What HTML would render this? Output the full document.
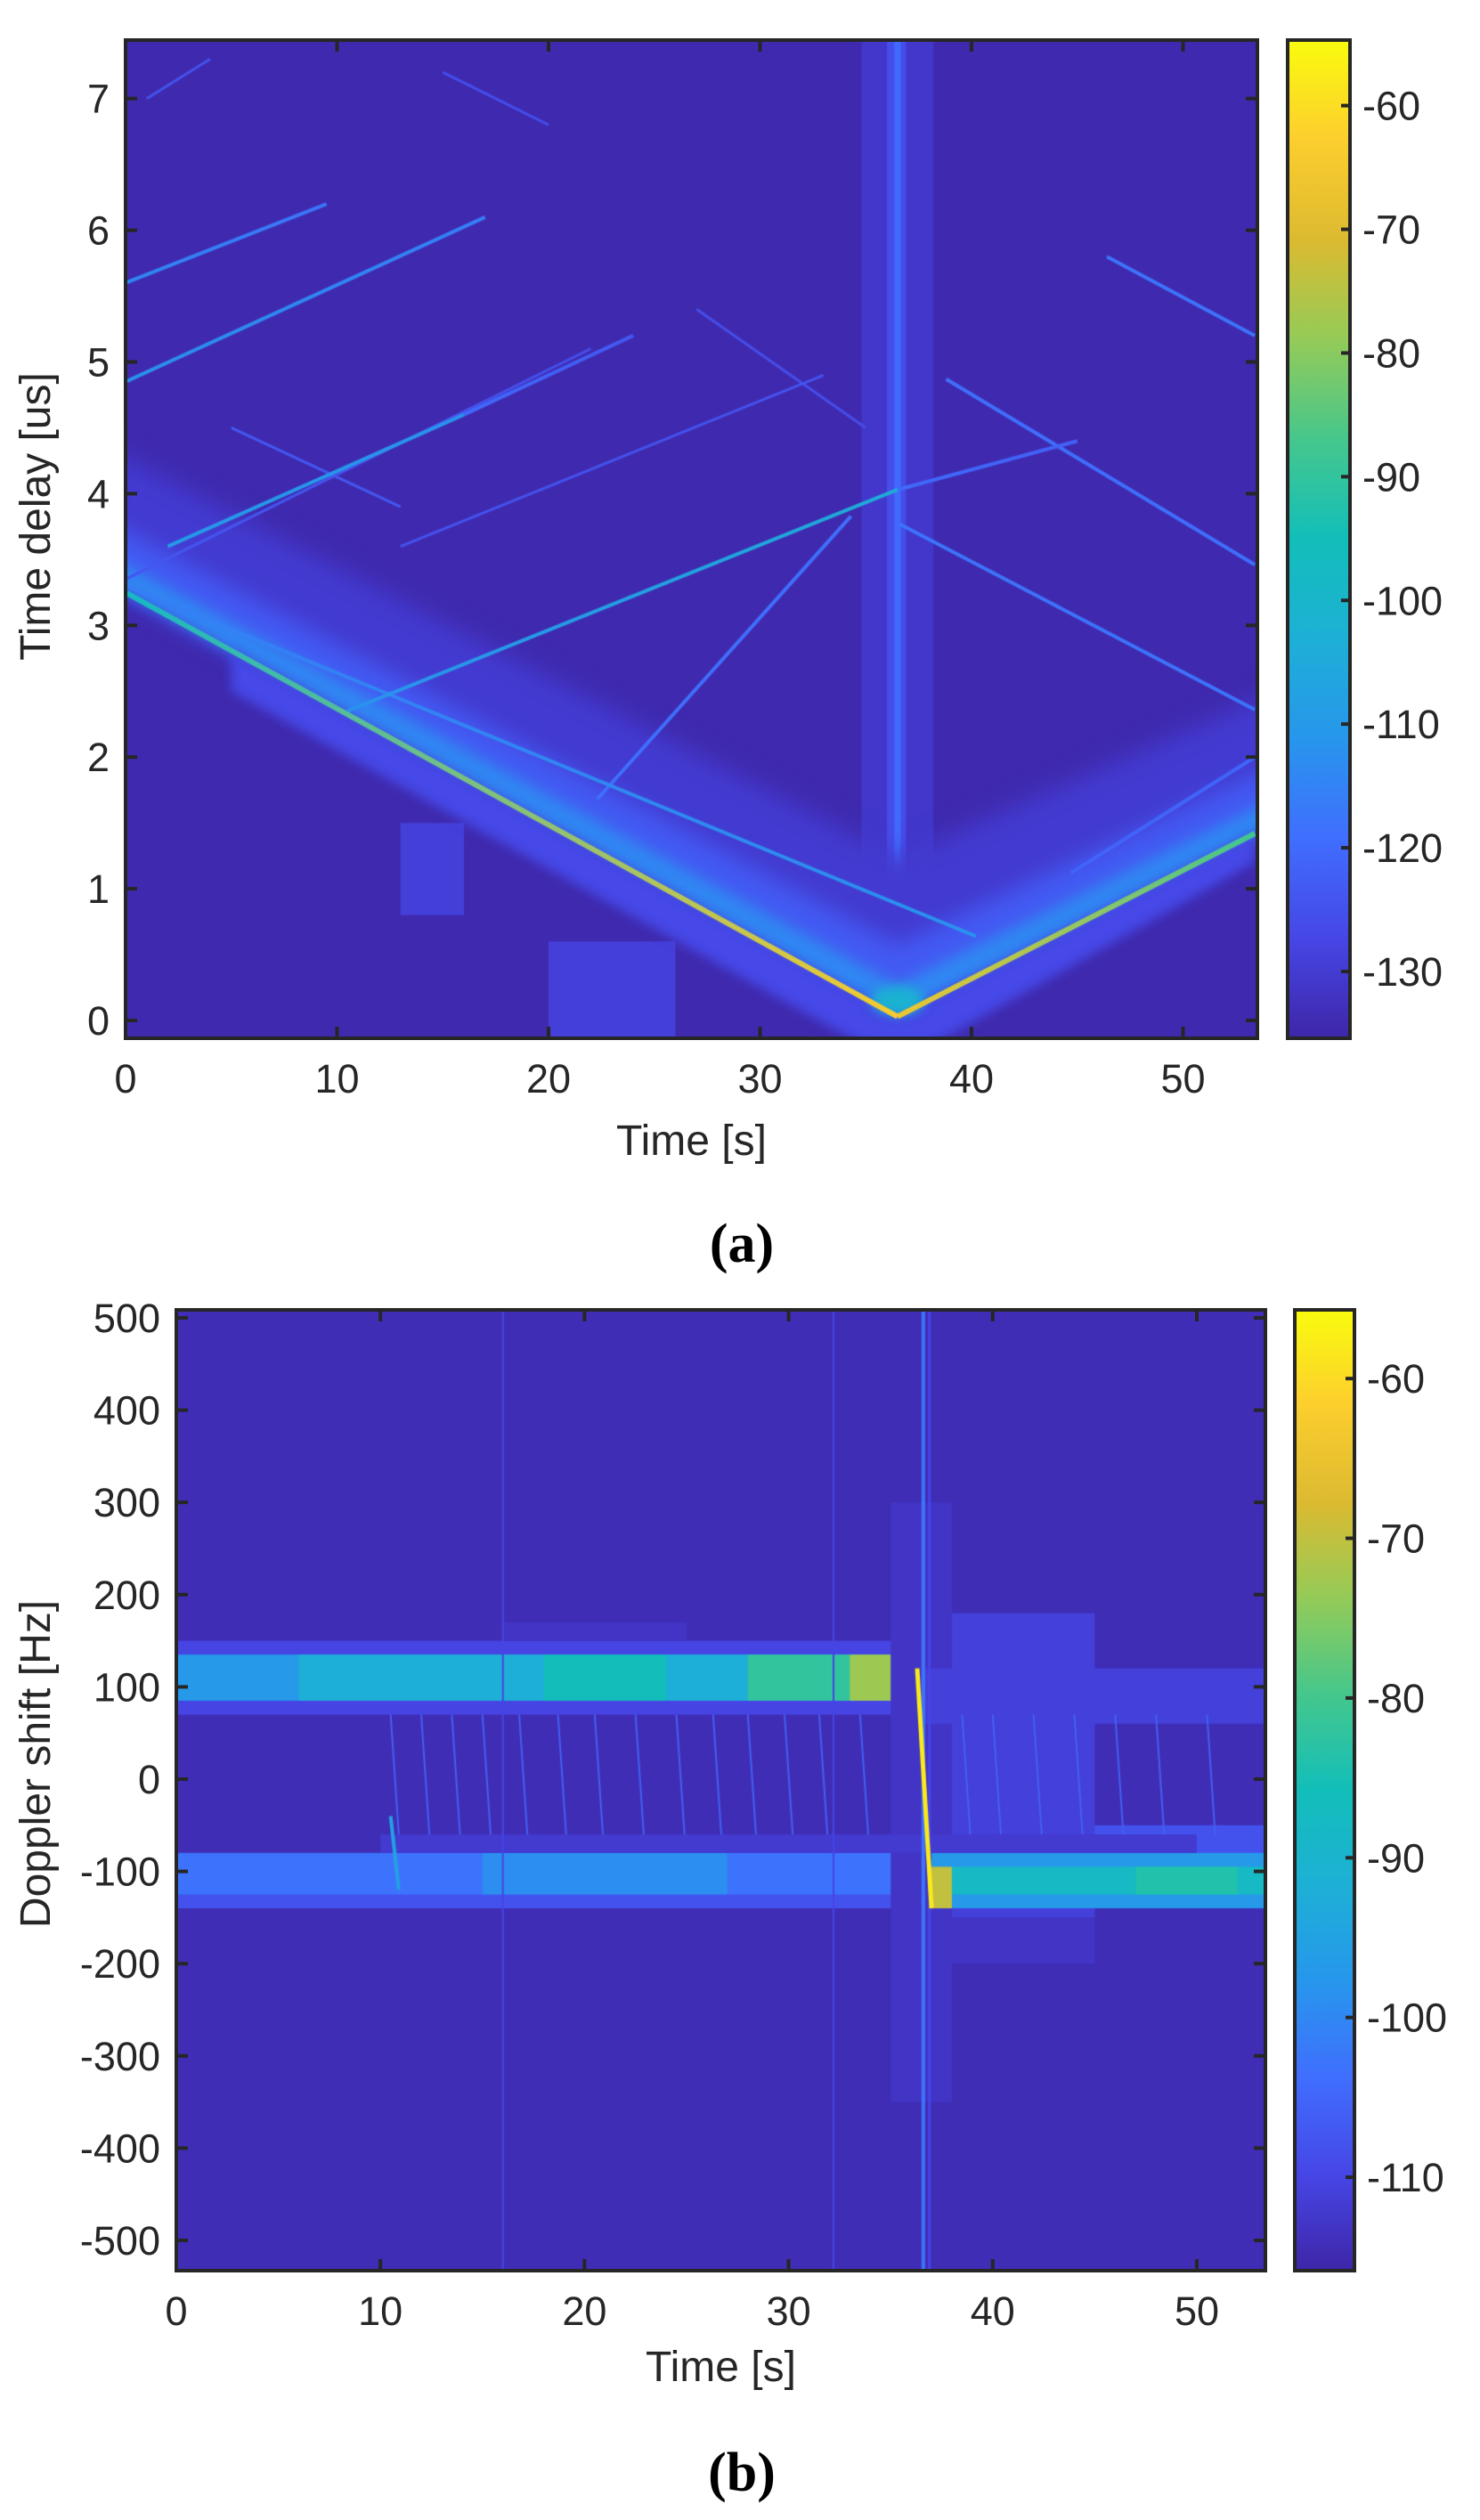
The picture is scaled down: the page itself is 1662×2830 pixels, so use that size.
<!DOCTYPE html>
<html><head><meta charset="utf-8">
<style>
html,body{margin:0;padding:0;background:#fff;}
#root{position:relative;width:1662px;height:2830px;overflow:hidden;background:#fff;}
canvas{position:absolute;}
svg{position:absolute;left:0;top:0;}
text{font-family:"Liberation Sans",sans-serif;fill:#262626;}
</style></head><body>
<div id="root">
<canvas id="ca" style="left:141px;top:45px" width="1271" height="1121"></canvas>
<canvas id="cb" style="left:198px;top:1471px" width="1223" height="1079"></canvas>
<svg id="ov" width="1662" height="2830"></svg>
</div>
<script>
// ---------- Panel A data (time [s], delay [us], level [dB]) ----------
const aX1=[0,36.5,10.5,36.5,0,0,2,16,0,0,36.6,38.8,46.4,22.3,44.7,13,1,15,5,27];
const aY1=[3.25,0.03,2.35,4.03,4.85,5.6,3.6,4.6,3.35,3.3,3.77,4.87,5.8,1.68,1.12,3.6,7.0,7.2,4.5,5.4];
const aX2=[36.5,53.4,36.5,45,17,9.5,16,24,22,40.2,53.4,53.4,53.4,34.3,53.4,33,4,20,13,35];
const aY2=[0.03,1.42,4.03,4.4,6.1,6.2,4.6,5.2,5.1,0.64,2.36,3.46,5.2,3.83,2.0,4.9,7.3,6.8,3.9,4.5];
const aLevel1=[-98,-66,-112,-120,-112,-114,-110,-120,-124,-116,-118,-119,-118,-119,-121,-125,-125,-126,-124,-126];
const aLevel2=[-64,-88,-104,-122,-116,-118,-112,-124,-126,-112,-118,-119,-118,-119,-121,-125,-125,-126,-124,-126];
const aTicksX=[0,10,20,30,40,50];
const aTicksY=[0,1,2,3,4,5,6,7];
const aCbTicks=[-60,-70,-80,-90,-100,-110,-120,-130];
const aCbMin=-135.4, aCbMax=-54.7;
// ---------- Panel B data (time [s], doppler [Hz], level [dB]) ----------
const bRectT1=[0,0,6,18,28,33,16,0,0,15,36.7,36.3,35,38,36.5,37,37,38,47,10];
const bRectT2=[36.3,36.3,36.3,24,35,36.3,25,36.5,36.5,27,53.4,45,38,45,53.4,53.4,38,53.4,52,50];
const bRectF1=[70,85,85,85,85,85,150,-140,-125,-125,-140,-150,-350,-200,60,-140,-140,-125,-125,-80];
const bRectF2=[150,135,135,135,135,135,170,-80,-80,-80,-50,180,300,-150,120,-80,-95,-95,-95,-60];
const bRectLevel=[-110,-97,-92,-86,-82,-73,-113,-108,-103,-99,-108,-111,-113,-113,-111,-97,-70,-88,-84,-112];
const bStreakT=[10.5,12,13.5,15,16.8,18.7,20.5,22.5,24.5,26.3,28,29.8,31.5,33.5,38.5,40,42,44,46,48,50.5];
const bTicksX=[0,10,20,30,40,50];
const bTicksY=[500,400,300,200,100,0,-100,-200,-300,-400,-500];
const bCbTicks=[-60,-70,-80,-90,-100,-110];
const bCbMin=-115.85, bCbMax=-55.7;

// ---------- colormap ----------
const P=[[62,38,168],[70,70,230],[64,110,254],[39,150,236],[29,176,214],[18,190,185],[69,199,140],[148,203,88],[220,186,48],[252,206,46],[249,251,14]];
function parula(u){u=Math.max(0,Math.min(1,u));const s=u*10,i=Math.min(9,Math.floor(s)),f=s-i;const a=P[i],b=P[i+1];return `rgb(${Math.round(a[0]+(b[0]-a[0])*f)},${Math.round(a[1]+(b[1]-a[1])*f)},${Math.round(a[2]+(b[2]-a[2])*f)})`;}

// ---------- Panel A drawing ----------
const A={L:141,T:45,R:1412,B:1166,x:t=>141+t*23.75,y:d=>1146-d*147.9,cmin:aCbMin,cmax:aCbMax};
const cA=(v)=>parula((v-A.cmin)/(A.cmax-A.cmin));
(function(){
 const ctx=document.getElementById('ca').getContext('2d');
 const X=t=>A.x(t)-A.L, Y=d=>A.y(d)-A.T;
 ctx.fillStyle=cA(-134.5);ctx.fillRect(0,0,2000,2000);
 // vertical stripe
 ctx.fillStyle=cA(-131);ctx.fillRect(X(34.8),0,X(38.2)-X(34.8),2000);
 ctx.fillStyle=cA(-126);ctx.fillRect(X(36.0),0,X(36.9)-X(36.0),2000);
 ctx.fillStyle=cA(-120);ctx.fillRect(X(36.35),0,X(36.65)-X(36.35),2000);
 // faint patches
 ctx.fillStyle=cA(-129);ctx.fillRect(X(20),Y(0.6),X(26)-X(20),Y(-0.2)-Y(0.6));
 ctx.fillRect(X(13),Y(1.5),X(16)-X(13),Y(0.8)-Y(1.5));
 // blurred glow polygons inside V
 function band(off,lvl,blur){
   ctx.save();ctx.filter=`blur(${blur}px)`;ctx.fillStyle=cA(lvl);ctx.beginPath();
   ctx.moveTo(X(-1),Y(3.35));ctx.lineTo(X(36.5),Y(0.03));ctx.lineTo(X(54.5),Y(1.5));
   ctx.lineTo(X(54.5),Y(1.5+off));ctx.lineTo(X(36.5),Y(0.03+off*1.2));ctx.lineTo(X(-1),Y(3.35+off));ctx.closePath();ctx.fill();ctx.restore();
 }
 band(1.0,-130,14);band(0.45,-123,12);band(0.2,-114,8);
 // fringe below
 ctx.save();ctx.filter='blur(6px)';ctx.fillStyle=cA(-127);ctx.beginPath();
 ctx.moveTo(X(5),Y(2.8));ctx.lineTo(X(36.5),Y(0.03));ctx.lineTo(X(53.4),Y(1.42));ctx.lineTo(X(53.4),Y(1.2));ctx.lineTo(X(38),Y(-0.2));ctx.lineTo(X(35),Y(-0.2));ctx.lineTo(X(5),Y(2.5));ctx.closePath();ctx.fill();
 ctx.fillStyle=cA(-102);ctx.beginPath();ctx.ellipse(X(36.5),Y(0.15),30,16,0,0,Math.PI*2);ctx.fill();ctx.restore();
 ctx.lineCap='butt';
 for(let i=aX1.length-1;i>=0;i--){
   const x1=X(aX1[i]),y1=Y(aY1[i]),x2=X(aX2[i]),y2=Y(aY2[i]);
   const g=ctx.createLinearGradient(x1,y1,x2,y2);g.addColorStop(0,cA(aLevel1[i]));g.addColorStop(1,cA(aLevel2[i]));
   ctx.strokeStyle=g;ctx.lineWidth=i<2?6:(aLevel1[i]<-121?3:4);
   ctx.beginPath();ctx.moveTo(x1,y1);ctx.lineTo(x2,y2);ctx.stroke();
 }
})();

// ---------- Panel B drawing ----------
const B={L:198,T:1471,R:1421,B:2550,x:t=>198+t*22.92,y:f=>1998-f*1.036,cmin:bCbMin,cmax:bCbMax};
const cB=(v)=>parula((v-B.cmin)/(B.cmax-B.cmin));
(function(){
 const ctx=document.getElementById('cb').getContext('2d');
 const X=t=>B.x(t)-B.L, Y=f=>B.y(f)-B.T;
 ctx.fillStyle=cB(-114.5);ctx.fillRect(0,0,2000,2000);
 for(let i=0;i<bRectT1.length;i++){
   ctx.fillStyle=cB(bRectLevel[i]);
   ctx.fillRect(X(bRectT1[i]),Y(bRectF2[i]),X(bRectT2[i])-X(bRectT1[i]),Y(bRectF1[i])-Y(bRectF2[i]));
 }
 ctx.lineWidth=2;
 for(let i=0;i<bStreakT.length;i++){
   ctx.strokeStyle=cB(-106);ctx.beginPath();ctx.moveTo(X(bStreakT[i]),Y(70));ctx.lineTo(X(bStreakT[i]+0.4),Y(-60));ctx.stroke();
 }
 ctx.strokeStyle=cB(-95);ctx.lineWidth=4;ctx.beginPath();ctx.moveTo(X(10.5),Y(-40));ctx.lineTo(X(10.9),Y(-120));ctx.stroke();
 [[16,-110,2],[32.2,-110,2],[36.9,-110,3],[36.6,-103,4]].forEach(v=>{ctx.strokeStyle=cB(v[1]);ctx.lineWidth=v[2];ctx.beginPath();ctx.moveTo(X(v[0]),0);ctx.lineTo(X(v[0]),2000);ctx.stroke();});
 ctx.strokeStyle=cB(-58);ctx.lineWidth=5;ctx.beginPath();ctx.moveTo(X(36.3),Y(120));ctx.lineTo(X(37.0),Y(-140));ctx.stroke();
})();

// ---------- Axes overlay ----------
const NS='http://www.w3.org/2000/svg';
const ov=document.getElementById('ov');
function el(tag,attrs,txt){const e=document.createElementNS(NS,tag);for(const k in attrs)e.setAttribute(k,attrs[k]);if(txt!==undefined)e.textContent=txt;ov.appendChild(e);return e;}
const defs=el('defs',{});
['ga','gb'].forEach(id=>{const g=document.createElementNS(NS,'linearGradient');g.setAttribute('id',id);g.setAttribute('x1','0');g.setAttribute('y1','1');g.setAttribute('x2','0');g.setAttribute('y2','0');
 for(let k=0;k<=20;k++){const s=document.createElementNS(NS,'stop');s.setAttribute('offset',k/20);s.setAttribute('stop-color',parula(k/20));g.appendChild(s);}defs.appendChild(g);});

function panel(P,ticksX,ticksY,yFn,xlabel,ylabel,ylabelY,xlabelBase,cb,cbTicks,grad,letter,letterBase,key){
 let r=el('rect',{x:P.L,y:P.T,width:P.R-P.L,height:P.B-P.T,fill:'none',stroke:'#262626','stroke-width':4});
 
 ticksX.forEach(t=>{const x=P.x(t);
   el('line',{x1:x,y1:P.B,x2:x,y2:P.B-13,stroke:'#262626','stroke-width':4});
   el('line',{x1:x,y1:P.T,x2:x,y2:P.T+13,stroke:'#262626','stroke-width':4});
   const tx=el('text',{x:x,y:P.B+61,'font-size':45,'text-anchor':'middle'},String(t));
   });
 ticksY.forEach(v=>{const y=yFn(v);
   el('line',{x1:P.L,y1:y,x2:P.L+13,y2:y,stroke:'#262626','stroke-width':4});
   el('line',{x1:P.R,y1:y,x2:P.R-13,y2:y,stroke:'#262626','stroke-width':4});
   const tx=el('text',{x:P.L-18,y:y+16,'font-size':45,'text-anchor':'end'},String(v));
   });
 let xl=el('text',{x:(P.L+P.R)/2,y:xlabelBase,'font-size':48,'text-anchor':'middle'},xlabel);
 
 let yl=el('text',{x:0,y:0,'font-size':48,'text-anchor':'middle',transform:`translate(56,${ylabelY}) rotate(-90)`},ylabel);
 
 let cr=el('rect',{x:cb.L,y:P.T,width:cb.R-cb.L,height:P.B-P.T,fill:`url(#${grad})`,stroke:'#262626','stroke-width':4});
 
 cbTicks.forEach(v=>{const y=P.B-(v-P.cmin)/(P.cmax-P.cmin)*(P.B-P.T);
   el('line',{x1:cb.R,y1:y,x2:cb.R-10,y2:y,stroke:'#262626','stroke-width':4});
   const tx=el('text',{x:cb.R+14,y:y+16,'font-size':45},String(v));
   });
 const lt=el('text',{x:833,y:letterBase,'font-size':62,'text-anchor':'middle','font-weight':'bold',style:'font-family:"Liberation Serif",serif;fill:#000'},letter);
 
}
panel(A,aTicksX,aTicksY,A.y,'Time [s]','Time delay [us]',580,1297,{L:1446,R:1516},aCbTicks,'ga','(a)',1417,'a');
panel(B,bTicksX,bTicksY,B.y,'Time [s]','Doppler shift [Hz]',1981,2674,{L:1454,R:1521},bCbTicks,'gb','(b)',2797,'b');
</script>
</body></html>
